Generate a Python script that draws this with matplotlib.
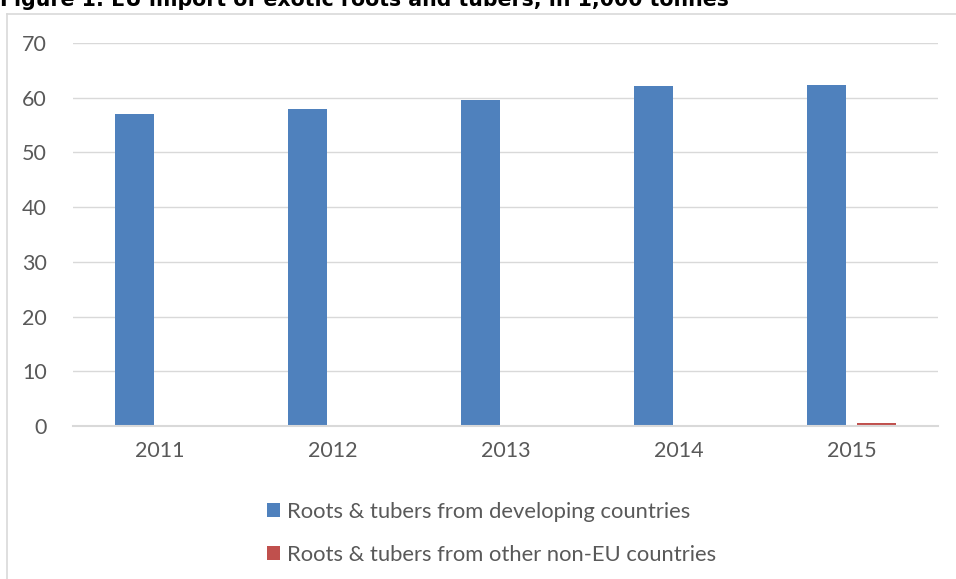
import matplotlib.pyplot as plt
import numpy as np
from matplotlib.lines import Line2D

years = ['2011', '2012', '2013', '2014', '2015']
developing = [57.0, 58.0, 59.6, 62.2, 62.3]
other_non_eu = [0.0, 0.0, 0.0, 0.1, 0.5]

title = 'Figure 1: EU import of exotic roots and tubers, in 1,000 tonnes'
labels = ['Roots & tubers from developing countries',
          'Roots & tubers from other non-EU countries']

plt.rcParams['font.family'] = ['Lato', 'DejaVu Sans']
grey = '#595959'

fig = plt.figure(figsize=(9.56, 5.79), dpi=100)
ax = fig.add_axes([73 / 956, 1 - 426 / 579, 865 / 956, 383 / 579])

# outer chart border (top and left visible)
fig.add_artist(Line2D([7 / 956, 7 / 956], [0, 1 - 14 / 579], transform=fig.transFigure,
                      color='#D9D9D9', lw=1.2))
fig.add_artist(Line2D([7 / 956, 1], [1 - 14 / 579, 1 - 14 / 579], transform=fig.transFigure,
                      color='#D9D9D9', lw=1.2))

x = np.arange(len(years))
w = 0.226
gap = 0.058
ax.bar(x - (w + gap) / 2, developing, w, color='#4F81BD', label=labels[0])
ax.bar(x + (w + gap) / 2, other_non_eu, w, color='#C0504D', label=labels[1])

ax.set_xlim(-0.5, 4.5)
ax.set_ylim(0, 70)
ax.set_yticks(range(0, 71, 10))
ax.set_xticks(x)
ax.set_xticklabels(years)
ax.yaxis.grid(True, color='#D9D9D9', lw=1)
ax.set_axisbelow(True)
for s in ['top', 'right', 'left']:
    ax.spines[s].set_visible(False)
ax.spines['bottom'].set_color('#D9D9D9')
ax.spines['bottom'].set_linewidth(1.5)
ax.tick_params(axis='both', length=0, labelsize=15.5, colors=grey)
ax.tick_params(axis='x', pad=11)
ax.tick_params(axis='y', pad=19)

leg = fig.legend(loc='upper left', bbox_to_anchor=(256 / 956, 1 - 491 / 579),
                 frameon=False, fontsize=15.8, handlelength=0.6, handleheight=0.6,
                 handletextpad=0.3, labelspacing=1.05, borderpad=0)
for t in leg.get_texts():
    t.set_color(grey)

# title, clipped at top of image as in the source
fig.text(0.0, 1 - 6 / 579, title, fontsize=14.8, fontweight='bold',
         family='DejaVu Sans', va='baseline', ha='left', color='black')

fig.savefig('out.png', dpi=100)
